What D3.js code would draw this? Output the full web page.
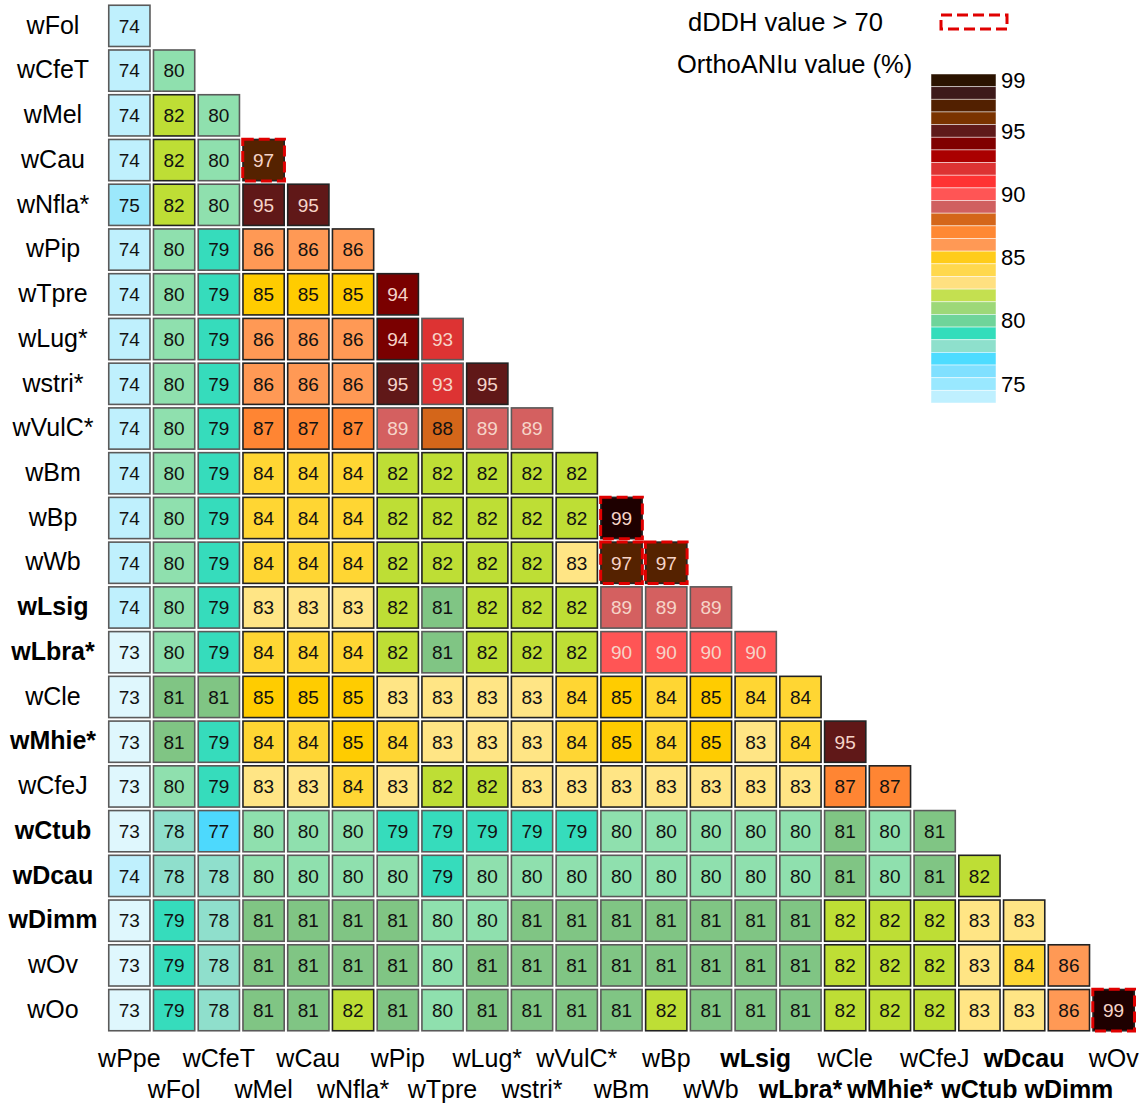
<!DOCTYPE html>
<html>
<head>
<meta charset="utf-8">
<script src="https://cdn.jsdelivr.net/npm/d3@7"></script>
<style>
  body { margin: 0; background: #fff; }
  svg text { font-family: "Liberation Sans", Arial, sans-serif; }
</style>
</head>
<body>
<div id="chart"></div>
<script>
// genomes on the rows (from the 2nd) and columns (all but the last)
var rowNames = ["wFol", "wCfeT", "wMel", "wCau", "wNfla*", "wPip", "wTpre", "wLug*", "wstri*", "wVulC*",
  "wBm", "wBp", "wWb", "wLsig", "wLbra*", "wCle", "wMhie*", "wCfeJ", "wCtub", "wDcau", "wDimm", "wOv", "wOo"];
var colNames = ["wPpe", "wFol", "wCfeT", "wMel", "wCau", "wNfla*", "wPip", "wTpre", "wLug*", "wstri*", "wVulC*",
  "wBm", "wBp", "wWb", "wLsig", "wLbra*", "wCle", "wMhie*", "wCfeJ", "wCtub", "wDcau", "wDimm", "wOv"];
var boldNames = ["wLsig", "wLbra*", "wMhie*", "wCtub", "wDcau", "wDimm"];

// OrthoANIu values (%), one row per genome
var aniValues = [
  [74],
  [74, 80],
  [74, 82, 80],
  [74, 82, 80, 97],
  [75, 82, 80, 95, 95],
  [74, 80, 79, 86, 86, 86],
  [74, 80, 79, 85, 85, 85, 94],
  [74, 80, 79, 86, 86, 86, 94, 93],
  [74, 80, 79, 86, 86, 86, 95, 93, 95],
  [74, 80, 79, 87, 87, 87, 89, 88, 89, 89],
  [74, 80, 79, 84, 84, 84, 82, 82, 82, 82, 82],
  [74, 80, 79, 84, 84, 84, 82, 82, 82, 82, 82, 99],
  [74, 80, 79, 84, 84, 84, 82, 82, 82, 82, 83, 97, 97],
  [74, 80, 79, 83, 83, 83, 82, 81, 82, 82, 82, 89, 89, 89],
  [73, 80, 79, 84, 84, 84, 82, 81, 82, 82, 82, 90, 90, 90, 90],
  [73, 81, 81, 85, 85, 85, 83, 83, 83, 83, 84, 85, 84, 85, 84, 84],
  [73, 81, 79, 84, 84, 85, 84, 83, 83, 83, 84, 85, 84, 85, 83, 84, 95],
  [73, 80, 79, 83, 83, 84, 83, 82, 82, 83, 83, 83, 83, 83, 83, 83, 87, 87],
  [73, 78, 77, 80, 80, 80, 79, 79, 79, 79, 79, 80, 80, 80, 80, 80, 81, 80, 81],
  [74, 78, 78, 80, 80, 80, 80, 79, 80, 80, 80, 80, 80, 80, 80, 80, 81, 80, 81, 82],
  [73, 79, 78, 81, 81, 81, 81, 80, 80, 81, 81, 81, 81, 81, 81, 81, 82, 82, 82, 83, 83],
  [73, 79, 78, 81, 81, 81, 81, 80, 81, 81, 81, 81, 81, 81, 81, 81, 82, 82, 82, 83, 84, 86],
  [73, 79, 78, 81, 81, 82, 81, 80, 81, 81, 81, 81, 82, 81, 81, 81, 82, 82, 82, 83, 83, 86, 99]
];

// pairs with dDDH > 70  [row, column]
var dddhPairs = [["wCau", "wMel"], ["wBp", "wBm"], ["wWb", "wBm"], ["wWb", "wBp"], ["wOo", "wOv"]];

// colour key
var legendBins = [99, 98, 97, 96, 95, 94, 93, 92, 91, 90, 89, 88, 87, 86, 85, 84, 83, 82, 81, 80, 79, 78, 77, 76, 75, 74];
var legendColors = ["#2b1300", "#3d1a1a", "#522000", "#7a3300", "#5f1a1a", "#800000", "#aa0000", "#dd3333",
  "#ff3333", "#ff5555", "#d06060", "#d4661a", "#ff8833", "#ff9955", "#ffcc1a", "#ffd84d", "#ffe080",
  "#c4e050", "#9dd878", "#6fd49a", "#33ddbb", "#8ee0cc", "#4ddcff", "#80e0ff", "#99e8ff", "#bff0ff"];
var legendTicks = [99, 95, 90, 85, 80, 75];
var cellValues = [99, 97, 95, 94, 93, 90, 89, 88, 87, 86, 85, 84, 83, 82, 81, 80, 79, 78, 77, 75, 74, 73];
var cellColors = ["#1e0000", "#552200", "#601818", "#7a0000", "#dd3333", "#ff5555", "#d46060", "#d4661a",
  "#ff8533", "#ff9955", "#ffcc00", "#ffd633", "#ffe585", "#bede35", "#80c584", "#8fe0ae", "#36dcbc",
  "#8fdfcc", "#4dd9fd", "#9ce8fb", "#bff0fd", "#dff7fd"];

var width = 1148, height = 1104;

var svg = d3.select("#chart").append("svg")
  .attr("width", width)
  .attr("height", height);

var x = d3.scaleBand().domain(colNames).range([108, 1135]).paddingInner(0.045).paddingOuter(0);
var y = d3.scaleBand().domain(rowNames).range([4.5, 1031.5]).paddingInner(0.045).paddingOuter(0);
var color = d3.scaleOrdinal().domain(cellValues).range(cellColors);
var bw = x.bandwidth(), bh = y.bandwidth();

// flatten into cells
var cells = [];
aniValues.forEach(function(row, i) {
  row.forEach(function(v, j) {
    cells.push({ row: rowNames[i], col: colNames[j], value: v });
  });
});

var cell = svg.append("g").selectAll("g")
  .data(cells)
  .enter()
  .append("g")
  .attr("transform", function(d) { return "translate(" + x(d.col) + "," + y(d.row) + ")"; });

cell.append("rect")
  .attr("x", 0.75)
  .attr("y", 0.75)
  .attr("width", bw - 1.5)
  .attr("height", bh - 1.5)
  .attr("fill", function(d) { return color(d.value); })
  .attr("stroke", function(d) { return (d.value >= 82 && d.value <= 88) || d.value >= 94 ? "#222" : "#5a5a5a"; })
  .attr("stroke-width", 1.6);

cell.append("text")
  .attr("x", bw / 2)
  .attr("y", bh / 2)
  .attr("dy", "0.36em")
  .attr("text-anchor", "middle")
  .style("font-size", "19px")
  .attr("fill", function(d) { return d.value >= 89 ? "#f6d4c8" : "#111"; })
  .text(function(d) { return d.value; });

// dDDH outlines
svg.append("g").selectAll("rect")
  .data(dddhPairs)
  .enter()
  .append("rect")
  .attr("x", function(d) { return x(d[1]) + 0.5; })
  .attr("y", function(d) { return y(d[0]) + 0.5; })
  .attr("width", bw - 1)
  .attr("height", bh - 1)
  .attr("fill", "none")
  .attr("stroke", "#e00000")
  .attr("stroke-width", 3)
  .attr("stroke-dasharray", "11,5");

// row labels
svg.append("g").selectAll("text")
  .data(rowNames)
  .enter()
  .append("text")
  .attr("x", 53)
  .attr("y", function(d) { return y(d) + bh / 2 - 1; })
  .attr("dy", "0.35em")
  .attr("text-anchor", "middle")
  .style("font-size", "25px")
  .style("font-weight", function(d) { return boldNames.indexOf(d) >= 0 ? "bold" : "normal"; })
  .text(function(d) { return d; });

// column labels, staggered on two lines
svg.append("g").selectAll("text")
  .data(colNames)
  .enter()
  .append("text")
  .attr("x", function(d) { return x(d) + bw / 2; })
  .attr("y", function(d, i) { return i % 2 == 0 ? 1067 : 1098; })
  .attr("text-anchor", "middle")
  .style("font-size", "25px")
  .style("font-weight", function(d) { return boldNames.indexOf(d) >= 0 ? "bold" : "normal"; })
  .text(function(d) { return d; });

// legend
svg.append("text")
  .attr("x", 688).attr("y", 31)
  .style("font-size", "25.5px")
  .text("dDDH value > 70");
svg.append("rect")
  .attr("x", 941).attr("y", 15)
  .attr("width", 66).attr("height", 14)
  .attr("fill", "none")
  .attr("stroke", "#e00000")
  .attr("stroke-width", 3)
  .attr("stroke-dasharray", "11,5");
svg.append("text")
  .attr("x", 677).attr("y", 73)
  .style("font-size", "25.5px")
  .text("OrthoANIu value (%)");

var ly = d3.scaleBand().domain(legendBins).range([74, 403]);
var legendColor = d3.scaleOrdinal().domain(legendBins).range(legendColors);

svg.append("g").selectAll("rect")
  .data(legendBins)
  .enter()
  .append("rect")
  .attr("x", 931)
  .attr("y", function(d) { return ly(d); })
  .attr("width", 65)
  .attr("height", ly.bandwidth())
  .attr("fill", function(d) { return legendColor(d); })
  .attr("stroke", "#fff")
  .attr("stroke-opacity", 0.6)
  .attr("stroke-width", 0.8);

svg.append("g").selectAll("text")
  .data(legendTicks)
  .enter()
  .append("text")
  .attr("x", 1001)
  .attr("y", function(d) { return ly(d) + ly.bandwidth() / 2; })
  .attr("dy", "0.35em")
  .style("font-size", "22px")
  .text(function(d) { return d; });
</script>
</body>
</html>
